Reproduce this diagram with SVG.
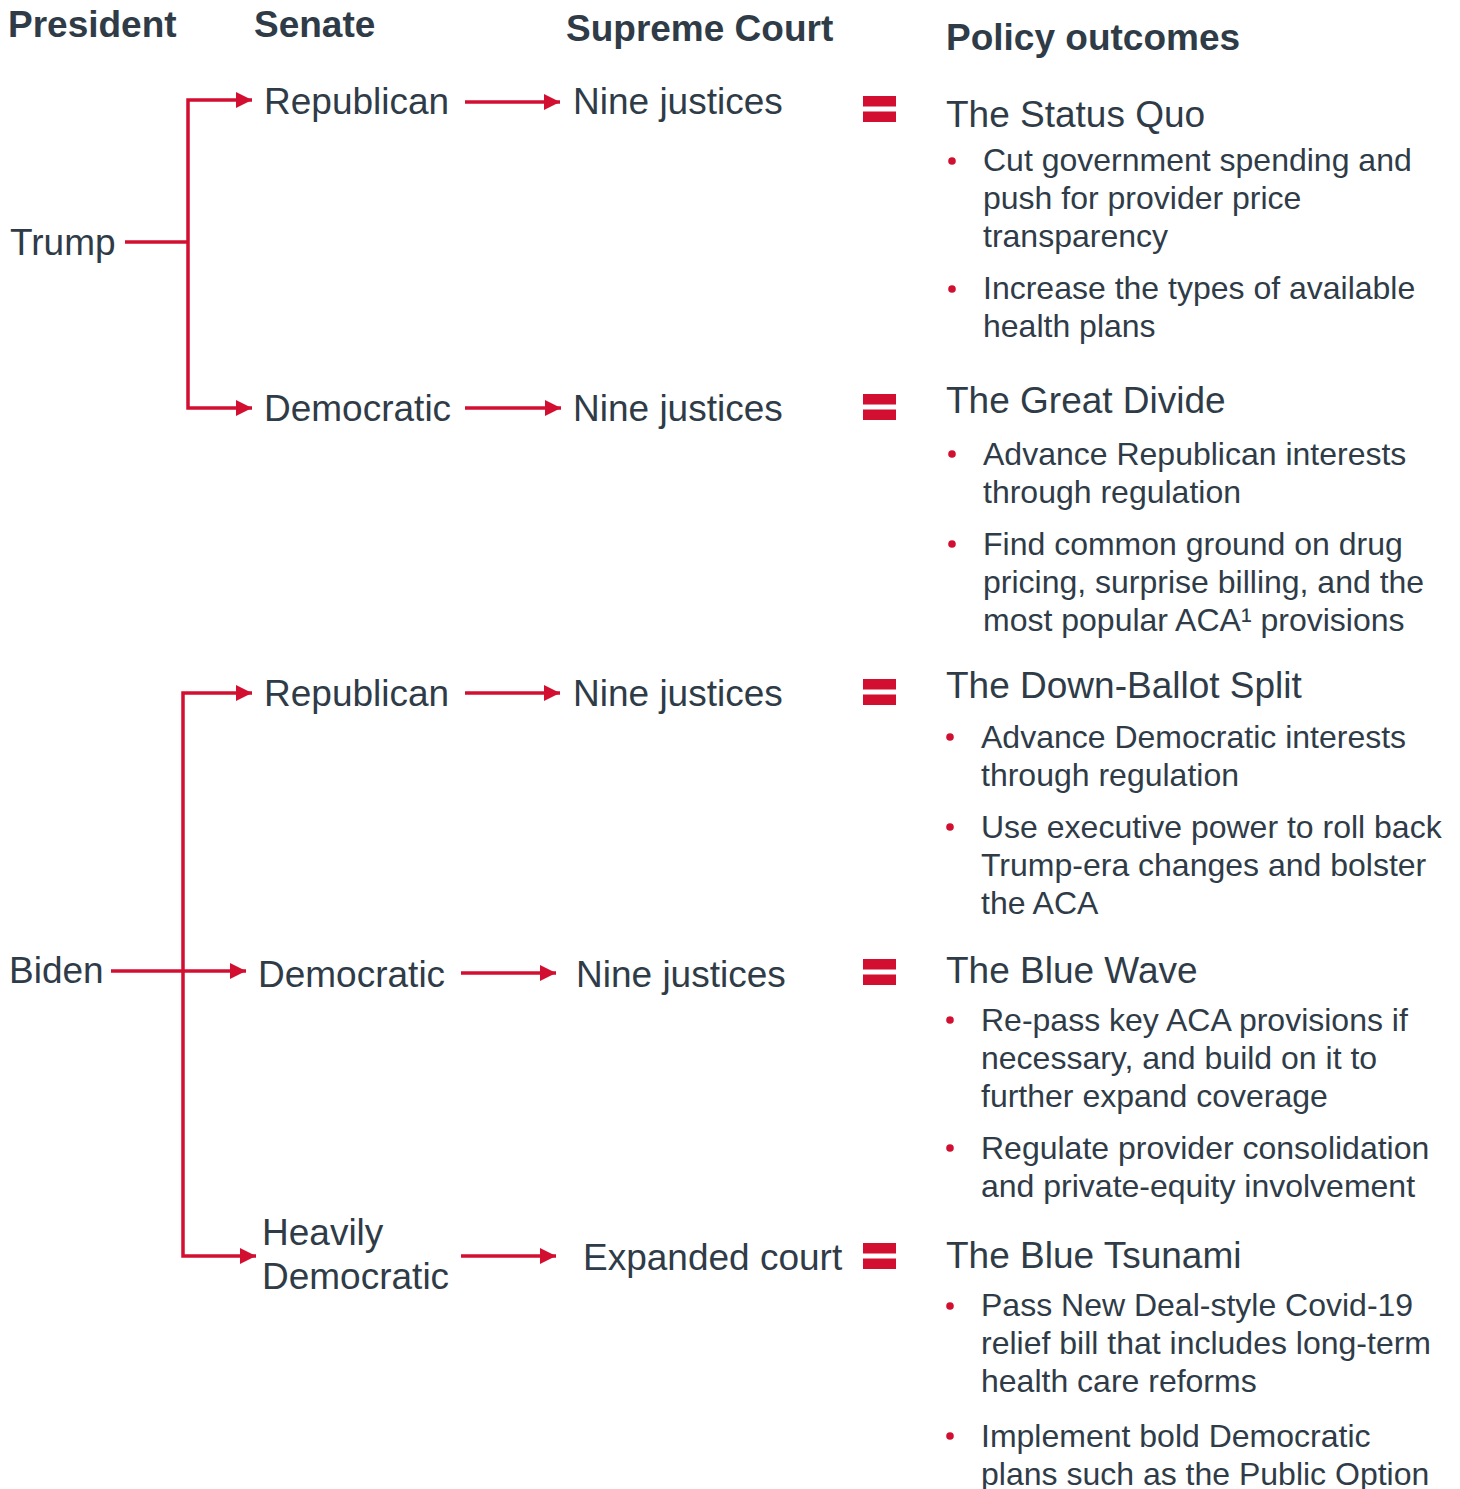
<svg xmlns="http://www.w3.org/2000/svg" width="1460" height="1489" viewBox="0 0 1460 1489">
<style>
text{font-family:"Liberation Sans",Arial,sans-serif;fill:#2F3C48}
.h{font-size:37px;font-weight:bold}
.n{font-size:37px}
.t{font-size:37px}
.b{font-size:32px}
.c{fill:none;stroke:#D20F30;stroke-width:3.5}
.dot{fill:#D20F30}
.eq{fill:#D20F30}
</style>
<defs>
<marker id="ah" markerUnits="userSpaceOnUse" markerWidth="16" markerHeight="16" refX="16" refY="8" orient="auto">
<path d="M0,0 L16,8 L0,16 Z" fill="#D20F30"/>
</marker>
<g id="equals"><rect x="0" y="-13" width="33" height="10.5"/><rect x="0" y="2.5" width="33" height="10.5"/></g>
</defs>
<rect width="1460" height="1489" fill="#fff"/>
<g id="headers">
<text class="h" x="8" y="37">President</text>
<text class="h" x="254" y="37">Senate</text>
<text class="h" x="566" y="41">Supreme Court</text>
<text class="h" x="946" y="50">Policy outcomes</text>
</g>
<g id="connectors">
<path class="c" d="M125,242 H188"/>
<path class="c" d="M188,242 V100 H252" marker-end="url(#ah)"/>
<path class="c" d="M188,242 V408 H252" marker-end="url(#ah)"/>
<path class="c" d="M465,102 H560" marker-end="url(#ah)"/>
<path class="c" d="M465,408 H561" marker-end="url(#ah)"/>
<path class="c" d="M111,971 H246" marker-end="url(#ah)"/>
<path class="c" d="M183,971 V693 H252" marker-end="url(#ah)"/>
<path class="c" d="M183,971 V1256 H256" marker-end="url(#ah)"/>
<path class="c" d="M465,693 H560" marker-end="url(#ah)"/>
<path class="c" d="M461,973 H556" marker-end="url(#ah)"/>
<path class="c" d="M461,1256 H556" marker-end="url(#ah)"/>
</g>
<g id="node-trump"><text class="n" x="10" y="255">Trump</text></g>
<g id="node-biden"><text class="n" x="9" y="983">Biden</text></g>
<g id="node-senate-r1"><text class="n" x="264" y="114">Republican</text></g>
<g id="node-senate-d1"><text class="n" x="264" y="421">Democratic</text></g>
<g id="node-senate-r2"><text class="n" x="264" y="706">Republican</text></g>
<g id="node-senate-d2"><text class="n" x="258" y="987">Democratic</text></g>
<g id="node-senate-hd"><text class="n" x="262" y="1245">Heavily</text><text class="n" x="262" y="1289">Democratic</text></g>
<g id="node-court-1"><text class="n" x="573" y="114">Nine justices</text></g>
<g id="node-court-2"><text class="n" x="573" y="421">Nine justices</text></g>
<g id="node-court-3"><text class="n" x="573" y="706">Nine justices</text></g>
<g id="node-court-4"><text class="n" x="576" y="987">Nine justices</text></g>
<g id="node-court-5"><text class="n" x="583" y="1270">Expanded court</text></g>
<g id="equals-signs" class="eq">
<use href="#equals" x="863" y="109"/>
<use href="#equals" x="863" y="407"/>
<use href="#equals" x="863" y="692"/>
<use href="#equals" x="863" y="972"/>
<use href="#equals" x="863" y="1256"/>
</g>
<g id="outcome-status-quo">
<text class="t" x="946" y="127">The Status Quo</text>
<circle class="dot" cx="952" cy="161" r="3.8"/>
<text class="b" x="983" y="171">Cut government spending and</text>
<text class="b" x="983" y="209">push for provider price</text>
<text class="b" x="983" y="247">transparency</text>
<circle class="dot" cx="952" cy="289" r="3.8"/>
<text class="b" x="983" y="299">Increase the types of available</text>
<text class="b" x="983" y="337">health plans</text>
</g>
<g id="outcome-great-divide">
<text class="t" x="946" y="413">The Great Divide</text>
<circle class="dot" cx="952" cy="454" r="3.8"/>
<text class="b" x="983" y="465">Advance Republican interests</text>
<text class="b" x="983" y="503">through regulation</text>
<circle class="dot" cx="952" cy="544" r="3.8"/>
<text class="b" x="983" y="555">Find common ground on drug</text>
<text class="b" x="983" y="593">pricing, surprise billing, and the</text>
<text class="b" x="983" y="631">most popular ACA¹ provisions</text>
</g>
<g id="outcome-down-ballot">
<text class="t" x="946" y="698">The Down-Ballot Split</text>
<circle class="dot" cx="950" cy="737" r="3.8"/>
<text class="b" x="981" y="748">Advance Democratic interests</text>
<text class="b" x="981" y="786">through regulation</text>
<circle class="dot" cx="950" cy="827" r="3.8"/>
<text class="b" x="981" y="838">Use executive power to roll back</text>
<text class="b" x="981" y="876">Trump-era changes and bolster</text>
<text class="b" x="981" y="914">the ACA</text>
</g>
<g id="outcome-blue-wave">
<text class="t" x="946" y="983">The Blue Wave</text>
<circle class="dot" cx="950" cy="1020" r="3.8"/>
<text class="b" x="981" y="1031">Re-pass key ACA provisions if</text>
<text class="b" x="981" y="1069">necessary, and build on it to</text>
<text class="b" x="981" y="1107">further expand coverage</text>
<circle class="dot" cx="950" cy="1148" r="3.8"/>
<text class="b" x="981" y="1159">Regulate provider consolidation</text>
<text class="b" x="981" y="1197">and private-equity involvement</text>
</g>
<g id="outcome-blue-tsunami">
<text class="t" x="946" y="1268">The Blue Tsunami</text>
<circle class="dot" cx="950" cy="1306" r="3.8"/>
<text class="b" x="981" y="1316">Pass New Deal-style Covid-19</text>
<text class="b" x="981" y="1354">relief bill that includes long-term</text>
<text class="b" x="981" y="1392">health care reforms</text>
<circle class="dot" cx="950" cy="1436" r="3.8"/>
<text class="b" x="981" y="1447">Implement bold Democratic</text>
<text class="b" x="981" y="1485">plans such as the Public Option</text>
</g>
</svg>
